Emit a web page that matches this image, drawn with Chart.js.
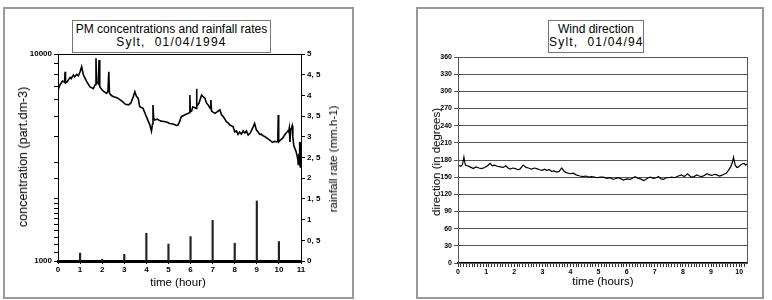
<!DOCTYPE html>
<html>
<head>
<meta charset="utf-8">
<script src="https://cdn.jsdelivr.net/npm/chart.js@4/dist/chart.umd.min.js"></script>
<style>
  body { margin: 0; background: #fff; width: 772px; height: 300px; position: relative; overflow: hidden;
         font-family: "Liberation Sans", Arial, sans-serif; }
  .panel { position: absolute; border: 2px solid #999; box-sizing: border-box; }
  .titlebox { position: absolute; border: 1.5px solid #777; box-sizing: border-box; background: #fff;
              text-align: center; font-size: 12px; line-height: 13px; padding-top: 2px; color: #000; }
  .titlebox .l2 { letter-spacing: 1.2px; white-space: pre; }
  .wrap { position: absolute; top: 0; width: 386px; height: 300px; }
  .lbl { position: absolute; white-space: nowrap; font-size: 11.5px; color: #000; transform: translate(-50%, -50%); }
  .rot { transform: translate(-50%, -50%) rotate(-90deg); }
</style>
</head>
<body>
<div class="panel" style="left:3px;top:7px;width:351px;height:292px"></div>
<div class="panel" style="left:416px;top:7px;width:348px;height:292px"></div>

<div class="wrap" style="left:0"><canvas id="graficoPM"></canvas></div>
<div class="wrap" style="left:386px"><canvas id="graficoVento"></canvas></div>

<div class="titlebox" style="left:72px;top:20px;width:199px;height:33px">PM concentrations and rainfall rates<br><span class="l2">Sylt,  01/04/1994</span></div>
<div class="titlebox" style="left:548px;top:20px;width:96px;height:33px">Wind direction<br><span class="l2">Sylt,  01/04/94</span></div>

<div class="lbl rot" style="left:23px;top:157px;font-size:12.5px">concentration (part.dm-3)</div>
<div class="lbl rot" style="left:333px;top:159px">rainfall rate (mm.h-1)</div>
<div class="lbl" style="left:178px;top:282px">time (hour)</div>
<div class="lbl rot" style="left:436px;top:162px">direction (in degrees)</div>
<div class="lbl" style="left:603px;top:281px">time (hours)</div>

<script>
// concentração de PM (part.dm-3) por hora
const concHoras = [0, 0.09, 0.2, 0.3, 0.32, 0.34, 0.42, 0.47, 0.55, 0.6, 0.65, 0.7, 0.75, 0.85, 0.92, 1.0, 1.07, 1.15, 1.3, 1.45,
    1.6, 1.68, 1.72, 1.74, 1.82, 1.86, 1.89, 2.0, 2.1, 2.2, 2.26, 2.3, 2.33, 2.42, 2.52, 2.67, 2.83, 2.95, 3.05, 3.2,
    3.3, 3.4, 3.48, 3.55, 3.63, 3.7, 3.85, 3.93, 4.0, 4.1, 4.16, 4.23, 4.28, 4.3, 4.33, 4.38, 4.5, 4.58, 4.66, 4.8,
    4.95, 5.05, 5.15, 5.27, 5.35, 5.43, 5.5, 5.58, 5.73, 5.85, 5.95, 5.97, 5.99, 6.05, 6.1, 6.2, 6.25, 6.27, 6.29, 6.38,
    6.5, 6.58, 6.65, 6.72, 6.8, 6.89, 6.92, 6.95, 7.0, 7.1, 7.2, 7.33, 7.4, 7.48, 7.55, 7.63, 7.7, 7.78, 7.85, 7.93,
    8.0, 8.08, 8.15, 8.22, 8.3, 8.38, 8.46, 8.53, 8.61, 8.7, 8.81, 8.9, 8.98, 9.06, 9.13, 9.2, 9.28, 9.35, 9.43, 9.5,
    9.58, 9.65, 9.7, 9.8, 9.9, 9.95, 9.97, 9.99, 10.08, 10.17, 10.25, 10.32, 10.4, 10.44, 10.47, 10.5, 10.53, 10.57, 10.6, 10.63,
    10.67, 10.72, 10.78, 10.83, 10.86, 10.88, 10.91, 10.93, 10.95, 10.97, 10.99, 11.0];
const concValores = [6700, 7100, 7400, 7300, 8200, 7250, 7350, 7500, 7700, 7600, 7780, 7920, 7750, 7970, 7850, 8200, 8680, 7920, 7350, 6940,
    6800, 7100, 9530, 7350, 7200, 9350, 6940, 6700, 6570, 6450, 6600, 8200, 6450, 6300, 6220, 6150, 5990, 5850, 5720, 5680,
    5800, 6200, 6570, 6250, 6110, 5560, 5460, 5200, 4980, 4700, 4540, 4240, 4600, 5670, 4900, 4800, 4850, 4780, 4740, 4720,
    4680, 4620, 4600, 4560, 4520, 4540, 4700, 4980, 5070, 5150, 5200, 6340, 5250, 5300, 5560, 5500, 5450, 6800, 5600, 5780,
    6340, 6200, 6110, 5800, 5670, 5460, 6000, 5300, 5250, 5170, 5250, 5370, 5100, 4980, 4850, 4700, 4650, 4540, 4500, 4450,
    4210, 4250, 4090, 4200, 4100, 4250, 4150, 4250, 4060, 4150, 4380, 4620, 4300, 4200, 4090, 4100, 4030, 4000, 3940, 3900,
    3840, 3790, 3740, 3780, 3760, 3800, 5070, 3760, 3850, 3920, 4050, 4140, 4250, 4200, 4380, 3760, 4300, 4400, 4500, 4000,
    3630, 3500, 3370, 3200, 3070, 2900, 3300, 3760, 2950, 2850, 3300, 3750];

// chuva (mm.h-1)
const chuvaHoras = [1, 2, 3, 4, 5, 6, 7, 8, 9, 10];
const chuvaValores = [0.19, 0.04, 0.16, 0.67, 0.41, 0.59, 0.98, 0.43, 1.45, 0.47];

// direção do vento (graus)
const ventoHoras = [0, 0.05, 0.1, 0.16, 0.21, 0.26, 0.33, 0.43, 0.54, 0.64, 0.74, 0.84, 0.95, 1.05, 1.14, 1.22, 1.3, 1.4, 1.5, 1.61,
    1.7, 1.78, 1.85, 1.95, 2.05, 2.12, 2.2, 2.32, 2.42, 2.5, 2.62, 2.72, 2.8, 2.9, 2.98, 3.08, 3.15, 3.25, 3.33, 3.42,
    3.5, 3.6, 3.69, 3.78, 3.85, 3.99, 4.1, 4.2, 4.34, 4.45, 4.55, 4.65, 4.75, 4.85, 4.95, 5.05, 5.17, 5.29, 5.4, 5.53,
    5.62, 5.71, 5.8, 5.88, 6.0, 6.12, 6.2, 6.3, 6.4, 6.5, 6.6, 6.68, 6.77, 6.85, 6.95, 7.05, 7.13, 7.22, 7.31, 7.4,
    7.49, 7.6, 7.7, 7.84, 7.95, 8.05, 8.16, 8.25, 8.31, 8.4, 8.49, 8.58, 8.67, 8.76, 8.85, 8.95, 9.03, 9.12, 9.21, 9.3,
    9.38, 9.46, 9.54, 9.62, 9.7, 9.76, 9.8, 9.86, 9.92, 9.98, 10.04, 10.1, 10.18, 10.23, 10.28];
const ventoValores = [171, 170, 169, 172, 185, 171, 170, 168, 165, 168, 166, 165, 167, 170, 174, 170, 171, 169, 168, 167,
    170, 166, 164, 166, 165, 163, 164, 171, 167, 166, 164, 166, 165, 163, 162, 164, 162, 163, 160, 161,
    159, 160, 166, 160, 158, 156, 157, 154, 152, 151, 152, 150, 151, 150, 149, 150, 150, 148, 149, 146,
    148, 149, 147, 145, 147, 146, 148, 151, 148, 147, 144, 146, 149, 150, 148, 149, 151, 147, 146, 149,
    149, 150, 149, 152, 154, 151, 156, 152, 150, 151, 154, 152, 151, 153, 156, 154, 153, 155, 154, 152,
    153, 155, 157, 162, 168, 176, 185, 171, 167, 168, 171, 173, 174, 171, 173];

// rótulos do eixo direito: 0, 0, 5, 1, 1, 5 ...
const chuvaTicks = [0, 0.5, 1, 1.5, 2, 2.5, 3, 3.5, 4, 4.5, 5];

const fonteTick = { family: '"Liberation Sans", Arial, sans-serif', size: 8, weight: 'bold' };

// desenha a moldura da área do gráfico
const moldura = {
    id: 'moldura',
    afterDraw(chart, args, opts) {
        const a = chart.chartArea, ctx = chart.ctx;
        ctx.save();
        ctx.strokeStyle = opts.color || '#000';
        ctx.lineWidth = 1;
        ctx.strokeRect(a.left + 0.5, a.top + 0.5, a.right - a.left, a.bottom - a.top);
        ctx.restore();
    }
};

function pares(xs, ys) {
    return xs.map((x, i) => ({ x: x, y: ys[i] }));
}

Chart.defaults.animation = false;

new Chart(document.getElementById('graficoPM'), {
    data: {
        datasets: [
            {
                type: 'line', data: pares(concHoras, concValores), yAxisID: 'y',
                borderColor: '#000', borderWidth: 1.6, pointRadius: 0, tension: 0
            },
            {
                type: 'bar', data: pares(chuvaHoras, chuvaValores), yAxisID: 'yR',
                backgroundColor: '#222', barThickness: 1.5, grouped: false
            }
        ]
    },
    options: {
        responsive: true, maintainAspectRatio: false,
        layout: { padding: { top: 54, left: 0, right: 0, bottom: 0 } },
        plugins: { legend: { display: false }, tooltip: { enabled: false }, moldura: { color: '#000' } },
        scales: {
            x: {
                type: 'linear', min: 0, max: 11, offset: false,
                ticks: { stepSize: 1, color: '#000', font: fonteTick, padding: 1, maxRotation: 0 },
                grid: { drawOnChartArea: false, offset: false, color: '#000', tickLength: 3 },
                border: { color: '#000', width: 3 },
                afterFit: s => { s.height = 39; }
            },
            y: {
                type: 'logarithmic', position: 'left', min: 1000, max: 10000,
                ticks: {
                    color: '#000', font: fonteTick, autoSkip: false, padding: 2,
                    callback: v => (v === 1000 || v === 10000) ? String(v) : ''
                },
                grid: { drawOnChartArea: false, color: '#000', tickLength: 4 },
                border: { color: '#000', width: 1 },
                afterFit: s => { s.width = 58; }
            },
            yR: {
                type: 'linear', position: 'right', min: 0, max: 5,
                afterBuildTicks: s => { s.ticks = chuvaTicks.map(v => ({ value: v })); },
                ticks: { color: '#000', font: fonteTick, padding: 2, callback: v => String(v).replace('.', ', ') },
                grid: { drawOnChartArea: false, color: '#000', tickLength: 4 },
                border: { color: '#000', width: 1 },
                afterFit: s => { s.width = 85; }
            }
        }
    },
    plugins: [moldura]
});

// marcas menores do eixo do tempo a cada 0.1 h
const ventoTicksX = [];
for (let i = 0; i <= 102; i++) ventoTicksX.push(i / 10);
const ventoTicksY = [0, 30, 60, 90, 120, 150, 180, 210, 240, 270, 300, 330, 360];

new Chart(document.getElementById('graficoVento'), {
    type: 'line',
    data: {
        datasets: [{
            data: pares(ventoHoras, ventoValores),
            borderColor: '#000', borderWidth: 1.2, pointRadius: 0, tension: 0
        }]
    },
    options: {
        responsive: true, maintainAspectRatio: false,
        layout: { padding: { top: 57, left: 0, right: 25, bottom: 0 } },
        plugins: { legend: { display: false }, tooltip: { enabled: false }, moldura: { color: '#555' } },
        scales: {
            x: {
                type: 'linear', min: 0, max: 10.28,
                afterBuildTicks: s => { s.ticks = ventoTicksX.map(v => ({ value: v })); },
                ticks: {
                    color: '#000', font: { ...fonteTick, size: 7 }, autoSkip: false, maxRotation: 0, padding: 1,
                    callback: v => Math.abs(v - Math.round(v)) < 1e-6 ? String(Math.round(v)) : ''
                },
                grid: { drawOnChartArea: false, color: '#333', tickLength: 4 },
                border: { color: '#000', width: 1.5 },
                afterFit: s => { s.height = 37; }
            },
            y: {
                type: 'linear', min: 0, max: 360,
                afterBuildTicks: s => { s.ticks = ventoTicksY.map(v => ({ value: v })); },
                ticks: { color: '#000', font: { ...fonteTick, size: 7 }, padding: 2 },
                grid: { color: '#555', lineWidth: 1, tickLength: 4 },
                border: { color: '#000', width: 1 },
                afterFit: s => { s.width = 72; }
            }
        }
    },
    plugins: [moldura]
});
</script>
</body>
</html>
